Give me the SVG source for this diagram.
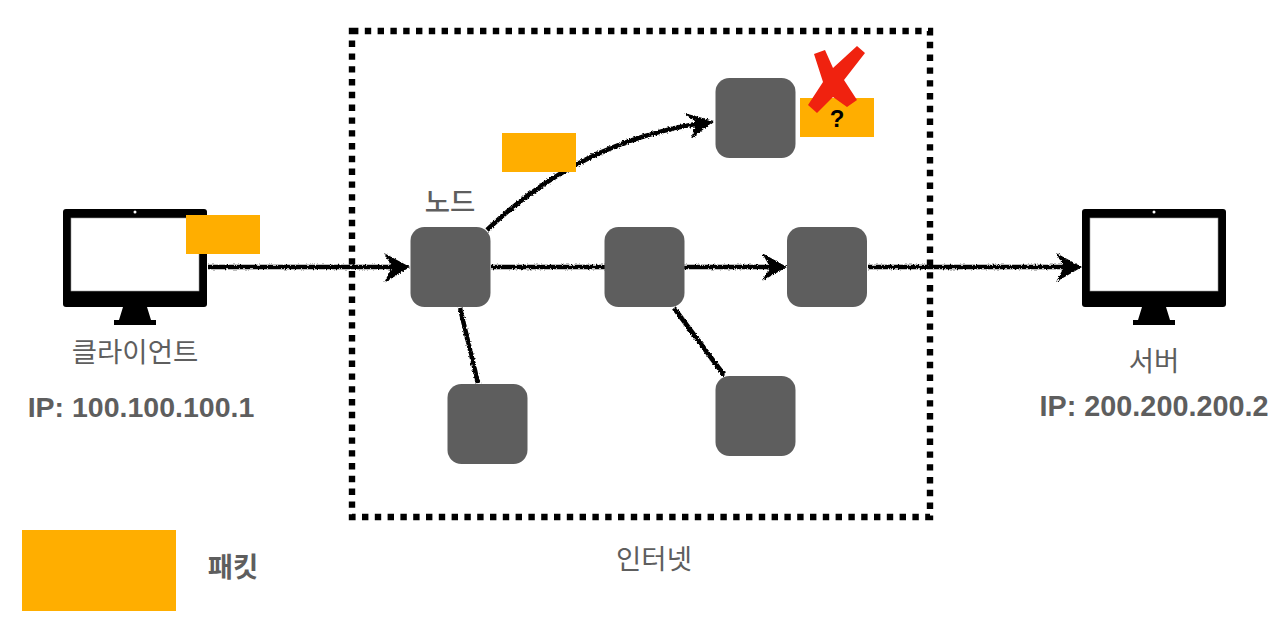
<svg xmlns="http://www.w3.org/2000/svg" width="1284" height="626" viewBox="0 0 1284 626">
<style>
.n{fill:#5e5e5e}
.p{fill:#ffae00}
.t{font-family:"Noto Sans CJK KR","Liberation Sans",sans-serif;fill:#5e5e5e;font-size:27.5px;text-anchor:middle}
.b{font-family:"Liberation Sans","Noto Sans CJK KR",sans-serif;fill:#5e5e5e;font-size:28.5px;font-weight:700;text-anchor:middle}
.c{fill:none;stroke:#000;stroke-width:4.600}
.h{fill:#000}
</style>
<defs>
<filter id="rough" x="-5%" y="-5%" width="110%" height="110%" filterUnits="userSpaceOnUse" primitiveUnits="userSpaceOnUse">
<feTurbulence type="fractalNoise" baseFrequency="0.6" numOctaves="2" seed="3"/>
<feDisplacementMap in="SourceGraphic" scale="3.5" xChannelSelector="R" yChannelSelector="G"/>
</filter>
<symbol id="mon" overflow="visible">
<rect x="0" y="0" width="144" height="98" rx="3" fill="#000"/>
<rect x="8" y="9" width="128" height="73" fill="#fff" stroke="#999" stroke-width=".6"/>
<circle cx="72" cy="3" r="1.500" fill="#fff"/>
<path d="M60 98H84L88 111H93V116H51V111H56Z" fill="#000"/>
</symbol>
</defs>
<rect id="internet" x="352" y="31" width="578" height="486" fill="none" stroke="#000" stroke-width="6.400" stroke-dasharray="6.400 6.400"/>
<g id="connectors" filter="url(#rough)">
<path class="c" d="M208 267H403"/>
<path class="h" d="M384 253L410 267L384 283L392 267Z"/>
<path class="c" d="M491 267H780"/>
<path class="h" d="M762 253L787 267L762 281L770 267Z"/>
<path class="c" d="M868 267H1075"/>
<path class="h" d="M1056 253L1082 267L1056 282L1064 267Z"/>
<path class="c" d="M487 230C550 170 620 135 708 122"/>
<path class="h" d="M684 113L714 121L691 139L696 122Z"/>
<path class="c" d="M460 308L478 383"/>
<path class="c" d="M674 308L724 375"/>
</g>
<g id="client"><use href="#mon" x="63" y="209"/><text class="t" x="135" y="362">클라이언트</text><text class="b" x="141" y="417">IP: 100.100.100.1</text></g>
<g id="server"><use href="#mon" x="1082" y="209"/><text class="t" x="1154" y="371">서버</text><text class="b" style="font-size:28.800px" x="1154" y="416">IP: 200.200.200.2</text></g>
<rect id="packet-client" class="p" x="186" y="215" width="74" height="39"/>
<g id="node-a"><rect class="n" x="410.500" y="227" width="80" height="80" rx="14"/><text class="t" style="font-weight:500" x="450" y="212">노드</text></g>
<rect id="node-b" class="n" x="604.500" y="227" width="80" height="80" rx="14"/>
<rect id="node-c" class="n" x="787" y="227" width="80" height="80" rx="14"/>
<rect id="node-d" class="n" x="715.500" y="78" width="80" height="80" rx="14"/>
<rect id="node-e" class="n" x="447.500" y="384" width="80" height="80" rx="14"/>
<rect id="node-f" class="n" x="715.500" y="376" width="80" height="80" rx="14"/>
<rect id="packet-mid" class="p" x="502" y="133" width="74" height="39"/>
<g id="packet-lost"><rect class="p" x="800" y="98" width="74" height="39"/><text x="837" y="127" font-family="Liberation Sans,sans-serif" font-size="24" font-weight="700" text-anchor="middle" fill="#000">?</text></g>
<path id="x-mark" d="M814 54L825 50L833 68L857 46L865 53L844 80L857 100L847 107L833 97L817 113L808 105L823 82Z" fill="#f0220f"/>
<g id="legend"><rect class="p" x="22" y="530" width="154" height="81"/><text class="t" style="font-weight:700" x="233" y="577">패킷</text></g>
<text id="internet-label" class="t" x="654" y="569">인터넷</text>
</svg>
